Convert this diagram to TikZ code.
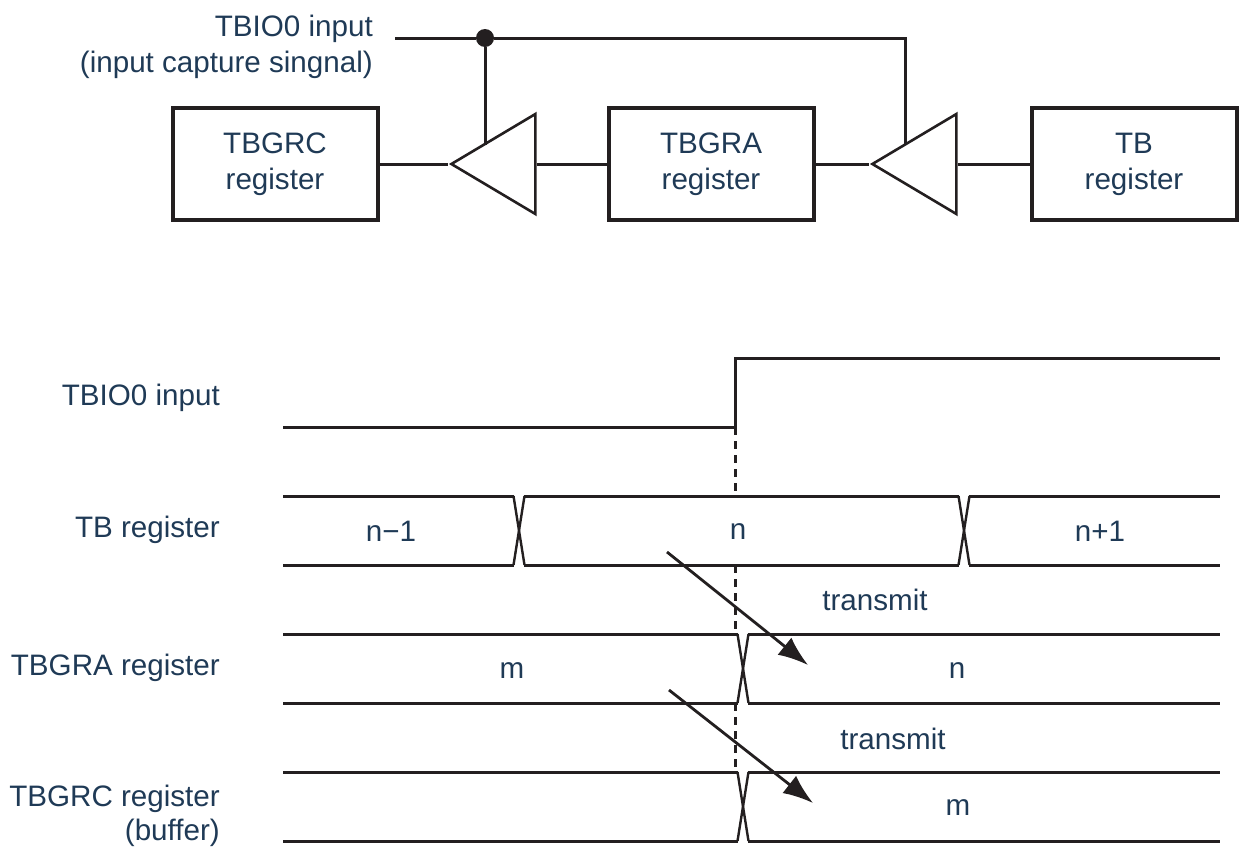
\documentclass[tikz,border=0pt]{standalone}
\usepackage{xcolor}
\usepackage{fontspec}
\setmainfont{Liberation Sans}
\usetikzlibrary{arrows.meta,positioning,shapes.geometric,calc}
\definecolor{labelblue}{HTML}{1F3A56}
\definecolor{ink}{HTML}{231F20}

\begin{document}
\begin{tikzpicture}[
x=1pt, y=-1pt,
txt/.style={text=labelblue, font=\fontsize{29.6}{36}\selectfont, align=center, inner sep=0pt},
lab/.style={txt, anchor=east, align=right},
box/.style={draw=ink, line width=4pt, minimum width=205pt, minimum height=112pt, txt},
buffer/.style={draw=ink, line width=2.6pt, isosceles triangle, isosceles triangle stretches, shape border rotate=180, minimum width=100pt, minimum height=84pt, inner sep=0pt, anchor=apex},
wire/.style={draw=ink, line width=3pt},
dashline/.style={draw=ink, line width=3pt, dash pattern=on 8pt off 6pt},
arr/.style={draw=ink, -{Latex[length=30pt,width=22pt]}, line width=2.8pt}
]
\useasboundingbox (0,0) rectangle (1239,846);

% block diagram
\node[box] (tbgrc) at (275,164) {TBGRC\\register};
\node[box] (tbgra) at (711,164) {TBGRA\\register};
\node[box] (tb) at (1134,164) {TB\\register};
\node[buffer] (bufc) at (448,164) {};
\node[buffer] (bufa) at (869,164) {};
\node[lab] (capture) at (373,47) {TBIO0 input\\(input capture singnal)};
\coordinate (capend) at (395,38);
\node[circle, fill=ink, inner sep=0pt, minimum size=18pt] (dot) at (485,38) {};
\coordinate (turn) at (905,38);
\coordinate (tapc) at (485,144.6);
\coordinate (tapa) at (905,145.2);

\draw[wire] (tbgrc) -- (bufc.apex);
\draw[wire] (bufc) -- (tbgra);
\draw[wire] (tbgra) -- (bufa.apex);
\draw[wire] (bufa) -- (tb);
\draw[wire] (capend) -- (dot);
\draw[wire] (dot) -- (turn) -- (tapa);
\draw[wire] (dot) -- (tapc);

% timing chart
\node[lab] (lab1) at (220,398) {TBIO0 input};
\node[lab] (lab2) at (220,530) {TB register};
\node[lab] (lab3) at (220,668) {TBGRA register};
\node[lab, font=\fontsize{29.6}{34}\selectfont] (lab4) at (220,816) {TBGRC register\\(buffer)};

\draw[wire] (283,427) -- (735,427) -- (735,358) -- (1220,358);
\draw[dashline] (735,427) -- (735,496);
\draw[dashline] (735,565) -- (735,634);
\draw[dashline] (735,703) -- (735,772);

\foreach \yhi/\ylo in {496/565, 634/703, 772/841} {
  \draw[wire] (283,\yhi) -- (1220,\yhi);
  \draw[wire] (283,\ylo) -- (1220,\ylo);
}

% changes of value
\foreach \xc/\yhi/\ylo in {519/496/565, 964/496/565, 743/634/703, 743/772/841} {
  \fill[white] (\xc-5,\yhi-2) rectangle (\xc+5,\ylo+2);
  \draw[ink, line width=2.4pt] (\xc-5.5,\yhi) -- (\xc+5.5,\ylo);
  \draw[ink, line width=2.4pt] (\xc+5.5,\yhi) -- (\xc-5.5,\ylo);
}

\node[txt] (nm1) at (391,531) {n−1};
\node[txt] (n1) at (738,532) {n};
\node[txt] (np1) at (1100,531) {n+1};
\node[txt] (m1) at (512,671) {m};
\node[txt] (n2) at (957,671) {n};
\node[txt] (m2) at (958,808) {m};
\node[txt] (tr1) at (875,600) {transmit};
\node[txt] (tr2) at (893,739) {transmit};

\coordinate (a1s) at (667,552);
\coordinate (a1e) at (808,665);
\coordinate (a2s) at (669,690);
\coordinate (a2e) at (813,803);
\draw[arr] (a1s) -- (a1e);
\draw[arr] (a2s) -- (a2e);
\end{tikzpicture}
\end{document}
